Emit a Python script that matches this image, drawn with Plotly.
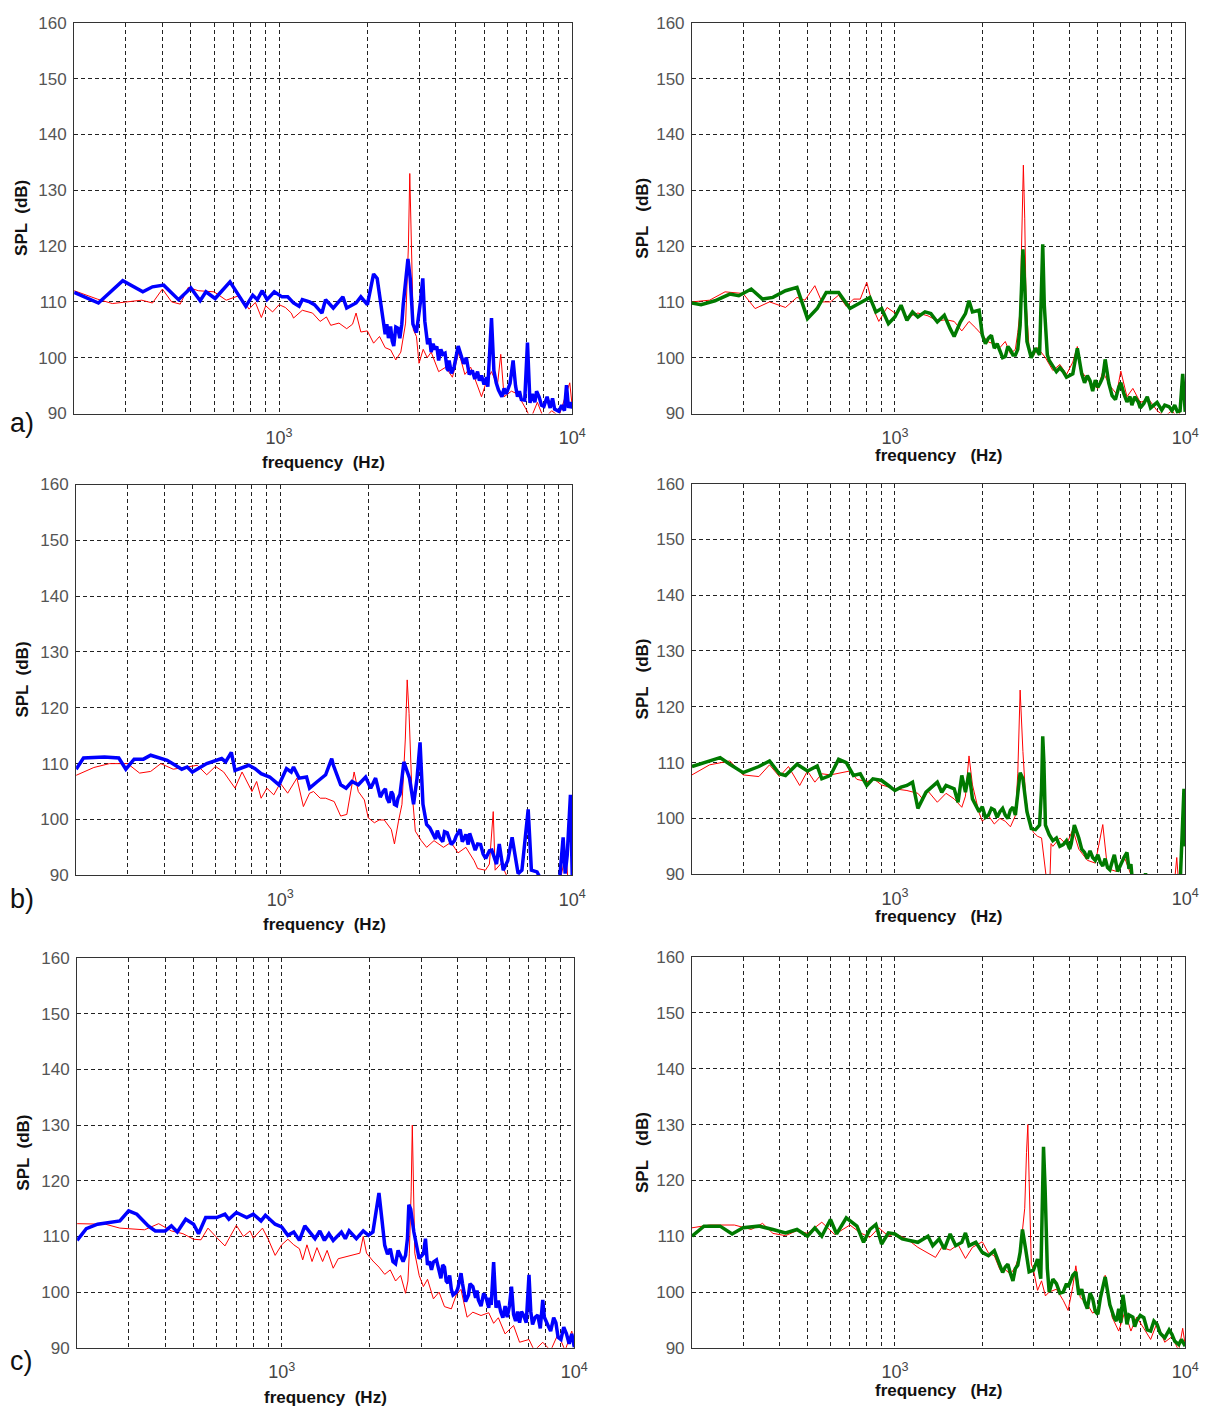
import math
import plotly.graph_objects as go

# ---------------- data ----------------
# panel a) left : blue vs red
A_L_BLUE_F = [200,242,293,343,370,404,454,500,538,563,605,680,770,813,843,876,910,963,1023,1070,
              1120,1170,1200,1270,1320,1400,1440,1530,1650,1700,1830,1900,2000,2100,2160,2230,2300,2400,2460,2540,
              2650,2750,2800,2860,2940,3030,3090,3140,3210,3400,3620,3780,3950,4080,4260,4560,4820,5150,5300,5400,
              5750,6130,6280,6500,6880,7030,7170,7700,8000,8560,9000,9550,10000]
A_L_BLUE_DB = [111.7,109.8,113.8,111.8,112.7,113,110.4,112.5,110.2,111.8,110.6,113.6,109.2,111.2,110.4,112,110.4,111.8,110.9,110.9,
               109.8,109.2,110.4,110,109.5,108,110.4,108.9,110.9,108.9,109.8,110.9,109.5,115,114.2,109.5,104.2,105.6,102.1,105.3,
               109.5,117.7,114.2,106,104.5,109.8,114.2,106.5,102.4,101.5,100.6,97.7,98.3,102.1,98.9,97.7,95.9,94.8,107.1,97.7,
               93,95.4,99.5,93,92.4,102.7,91.9,93,91.3,92.7,90.4,95.1,90.9]
# extra readings of the noisy band of the same blue trace
A_L_BLUE_F2 = [2330,2360,2430,2500,2580,2620,3260,3300,3350,3450,3500,3560,3680,3740,3800,3870,
               4350,4450,4650,4750,4900,5000,5100,5500,5600,5850,5950,6400,6600,6700,
               7300,7450,7550,7850,8200,8400,8700,9200,9400,9700,9850]
A_L_BLUE_DB2 = [106,103.5,103,105.5,103.5,106,103.5,101,102.5,102,99.5,101.5,100.8,98,99.5,97.2,
                100,97,96.2,97.5,96.8,95.2,96.5,95.5,94.2,94.5,93.5,95,94,92.5,
                93.5,92,94,91.5,93,91,90.8,91.5,90.5,91,92]
A_L_RED_F = [200,240,270,300,340,370,400,430,460,490,530,600,660,720,760,790,830,870,900,950,
             1000,1050,1100,1120,1200,1300,1380,1450,1500,1600,1700,1780,1830,1900,2000,2100,2200,2300,2400,2500,
             2600,2700,2760,2790,2830,2870,2940,3000,3100,3200,3300,3500,3700,3900,4100,4300,4500,4700,4900,5100,
             5300,5550,5700,5850,6200,6500,7000,7200,7600,8000,8500,9000,9800,10000]
A_L_RED_DB = [112,110.5,109.7,110,110.3,109.8,112.3,110,109.6,112.6,112,111.8,110.3,111,110,108.7,109.9,107.2,109.3,108.2,
              109.5,109,108,107.1,108.5,108,106.5,107.3,105.8,106.2,105.2,106,108,104.6,104.8,102.6,103.8,101.8,101.4,99.6,
              101,106.2,120,133,120,105,103.8,99,101.5,100,101,97.5,98.3,96.5,101,97,98.3,95.5,93,95.8,
              97.5,95,100.6,93,94,93.5,90.5,89,92,89,90.5,89.5,95.5,91]

# panel a) right : green vs red
A_R_GREEN_F = [200,215,240,270,290,320,350,380,420,460,500,540,580,640,700,760,820,860,900,950,
               1000,1050,1100,1150,1200,1270,1330,1400,1480,1550,1600,1680,1750,1800,1850,1950,2000,2100,2200,2300,
               2400,2500,2600,2700,2760,2800,2850,2950,3050,3150,3200,3230,3270,3350,3500,3700,3900,4100,4250,4400,
               4700,5000,5300,5600,5900,6300,6700,7200,7800,8300,8800,9400,9800,10000]
A_R_GREEN_DB = [109.8,109.5,110.2,111.4,111.1,112.3,110.5,110.8,112,112.6,107,108.8,111.7,111.7,108.8,109.8,110.8,108.2,108.8,106.1,
                107.3,109.4,106.7,108.2,107.3,108.2,107.9,106.4,107.6,105.2,103.8,106.4,107.9,110.2,108.2,108.5,104.1,103.5,101.7,101.1,
                100.2,101.4,100.5,105.8,119.4,112.9,102.9,100,101.7,100.5,110.5,120.3,109.4,100.5,98.5,98.2,96.5,97.1,101.7,97.1,
                95.9,94.7,99.7,93.2,94.7,92.1,93,91.8,91.5,90.6,91.2,90.3,97.1,90.3]
A_R_GREEN_F2 = [2050,2150,2250,2350,2450,2550,2650,3400,3600,3800,4000,4500,4600,4800,4900,5100,5200,
                5450,5750,6000,6150,6450,6550,6900,7000,7400,7600,8000,8500,9000,9200,9600]
A_R_GREEN_DB2 = [102.5,104,102.5,100,102,100.5,101.5,99.5,97.5,97.5,96.8,95.5,96.8,94,96,95.5,96.5,
                 95.5,92.5,95.5,93.5,93,91.5,92,91,93,91,92,91.5,90.5,91.5,90.5]
A_R_RED_F = [200,230,260,300,330,370,420,460,490,530,560,600,640,680,720,760,800,850,880,940,
             1000,1050,1100,1200,1300,1400,1500,1600,1700,1800,1900,2000,2100,2200,2300,2400,2500,2600,2650,2700,
             2740,2770,2800,2830,2900,3000,3100,3200,3300,3500,3700,3900,4100,4250,4400,4700,5000,5200,5500,5800,
             6000,6300,6600,7000,7500,8000,8500,9000,9500,9800,10000]
A_R_RED_DB = [110,110.3,111.8,111.5,108.8,110,109,110.8,110.3,112.9,110,110,111.2,109.2,110.5,110.5,113.5,108.3,106.5,109,
              108,108.8,107.2,108,107.5,106.6,106.8,106.5,104.8,106.5,105.3,104,102.8,102.5,101.8,102.9,100.7,101.5,104.5,108.5,
              125,134.5,125,110,101.5,100.3,101.8,100.8,100,97.7,98.8,97,99.2,102,97.5,95.5,94.5,97.5,95,93.5,
              97.6,93,94.5,92,92.5,90.5,89.5,90.5,89,94.3,91]

# panel b) left : blue vs red
B_L_BLUE_F = [200,212,250,280,296,316,340,360,410,460,480,500,560,600,630,650,680,700,780,820,
              860,920,990,1050,1090,1110,1160,1230,1260,1340,1430,1500,1520,1610,1680,1760,1850,1960,2040,2120,
              2250,2320,2400,2460,2530,2610,2650,2770,2860,2940,3010,3080,3170,3300,3510,3730,3950,4130,4320,4530,
              4740,4950,5200,5450,5620,5800,6010,6220,6520,6720,7060,7240,7570,8030,9000,9300,9450,9600,9850,10000]
B_L_BLUE_DB = [109,111,111.2,111,109,110.8,110.8,111.5,110.6,109,109.4,108.5,110,110.6,110.9,110.3,112,108.8,109.7,109.1,
               108.2,107.6,106.2,109.1,108.5,109.4,107.4,107.6,105.6,106.8,108,110.9,109.7,106.2,105.6,106.8,106.2,107.6,105.6,107.4,
               105,103.8,105,102.7,103.8,107.4,110.3,107.4,102.7,107.4,113.8,102.7,99.1,97.9,96.8,97.6,96.2,98.2,97.3,96.2,
               95.6,93.8,94.4,92.6,95.6,90.9,92.6,96.8,90.3,90.9,101.8,90.9,90.6,88,88,96.8,90.3,93.5,104.4,89]
B_L_BLUE_F2 = [2200,2290,2360,2430,2500,2570,3250,3400,3450,3600,3650,3850,4000,4200,4400,4450,4650,
               4850,5050,5300,5500,5700]
B_L_BLUE_DB2 = [104,105.5,103,104.5,102.5,104.5,98.5,96.5,98,96,97.8,95.5,97,96,95.5,97.5,94.5,
                95.5,93,94.5,92,93.2]
B_L_RED_F = [200,230,260,300,330,360,390,430,480,520,560,600,640,700,740,800,830,860,900,950,
             1000,1060,1140,1200,1260,1300,1370,1430,1530,1610,1690,1790,1850,1940,2000,2100,2180,2270,2400,2460,
             2540,2610,2680,2720,2760,2820,2900,3040,3170,3360,3620,3840,4060,4320,4610,4740,5040,5200,5360,5440,
             5700,5900,6200,9000,9500,9700,10000]
B_L_RED_DB = [107.9,109.3,110,110,108.3,108.6,110,109,109.4,109.7,108,109.5,108.5,105.6,108.5,105,106.8,103.8,105.6,104.4,
              106.5,104.7,107.4,102.3,104.7,105,103.8,103.8,103.2,100.6,100.9,108.5,105,103.5,100.3,99.4,99.9,99.9,98.2,95.6,
              99.7,102.7,114.4,125,119,105.6,97.9,96.2,95,96.2,95,95.9,94,95,92.6,91.2,90.9,92,101.4,90.9,
              92.1,90.3,88,88,94,88,88]

# panel b) right : green vs red
B_R_GREEN_F = [200,220,250,270,300,340,370,400,420,460,500,540,560,600,640,680,720,760,800,840,
               900,950,1000,1050,1100,1150,1200,1280,1320,1400,1450,1500,1600,1650,1700,1750,1800,1850,1950,2000,
               2100,2200,2300,2400,2500,2600,2700,2760,2850,2950,3050,3150,3200,3230,3260,3300,3400,3600,3800,4000,
               4150,4300,4500,4800,5100,5400,5700,6000,6300,6500,6600,7200,7300,7400,9600,9900,10000]
B_R_GREEN_DB = [109.3,110,110.9,109.7,108.2,109.3,110.3,108,107.7,109.7,108.5,109.4,107.1,107.7,110.6,110,107.7,108,105.9,107.1,
                106.8,105.9,105,105.6,105.9,106.5,101.8,104.7,105.3,106.5,104.7,105.9,105.3,102.9,107.7,104.7,108.2,103.5,101.2,102.1,
                100.6,101.5,101.2,100.6,101.5,100.6,108.2,107.1,101.2,98.2,98,98.8,105.3,114.7,110,98.8,97.1,96.5,95.3,94.5,
                98.8,96.5,93.9,93,92.1,91.2,93.5,91.8,93.9,91.8,88,88,90.2,88,88,105.3,95]
B_R_GREEN_F2 = [2050,2150,2250,2350,2450,2550,3500,3700,3900,4050,4400,4600,4700,4900,5000,5200,5300,
                5500,5600,5850,6150,6400]
B_R_GREEN_DB2 = [100.2,101.8,100.2,101.8,100,102,96,95,96,95.5,94.5,92.8,94.2,92.5,93.5,91.5,92.8,
                 90.8,92.2,90.5,93,91]
B_R_RED_F = [200,230,270,300,340,370,400,430,470,500,530,560,600,650,700,740,800,850,900,1000,
             1100,1200,1250,1300,1400,1500,1600,1700,1750,1800,1850,1950,2000,2100,2200,2300,2400,2500,2600,2650,
             2700,2760,2820,2900,3000,3100,3200,3400,3450,3500,3700,3900,4100,4300,4600,4900,5200,5400,5800,6200,
             6600,9200,9350,9500,9750,9900,10000]
B_R_RED_DB = [107.8,109.6,110.3,107.8,107.5,109.6,107.5,109.3,105.9,108.5,106.5,108,107.8,108.2,108.5,107,106.6,107,106,105.3,
              105,104.5,103.4,104.9,102.9,104.5,103.5,102,104,111.2,106,101,99.5,100.5,99,100,99.5,98.5,100.5,108,
              123,112,104,99.5,97.5,96.8,96.5,85,95.5,95,96.5,95.3,98,94.5,92.5,92,98.9,91,90.5,92.8,
              89,89,93,88,96,103,96]

# panel c) left : blue vs red
C_L_BLUE_F = [200,215,235,260,280,300,320,350,370,400,420,440,470,500,520,550,600,640,660,700,
              760,800,850,880,950,1000,1050,1100,1150,1200,1250,1300,1350,1400,1450,1500,1600,1650,1700,1800,
              1900,1980,2050,2100,2150,2200,2250,2350,2450,2550,2650,2690,2720,2760,2830,2950,3050,3100,3150,3300,
              3450,3550,3700,3850,4000,4100,4250,4500,4700,5000,5200,5300,5400,5700,6100,6300,6700,7000,7200,7500,
              7800,8100,8500,8800,9200,9600,9800,10000]
C_L_BLUE_DB = [109.3,111.4,112.2,112.5,112.8,114.6,114,111.9,111,111,111.9,110.8,113.1,112.2,110.5,113.4,113.4,114,113.1,114.3,
               113.4,114,112.8,113.8,112.2,111.7,110.2,110.8,109.3,111.9,110.8,109.6,111,109.3,110.5,109.3,110.8,109.6,111,109.6,
               111,110.2,110.8,114.9,117.8,113.1,108.4,107.8,105.1,106.6,106.6,109.6,115.7,114.9,110.8,106,106.9,109.6,104.9,105.4,
               103.7,104.9,101.6,99.5,100.7,103.4,98.3,101,98.6,98.9,97.7,105.4,97.2,95.4,101,94.8,95.9,103.1,94.2,95.9,
               98.6,94.2,95.4,91.9,93.7,90.7,92.5,90.1]
C_L_BLUE_F2 = [2300,2400,2500,2600,3200,3250,3380,3500,3600,3650,3750,3800,3950,4150,4350,4400,4600,4650,4800,4900,
               5100,5150,5500,5600,5800,5900,6000,6200,6400,6500,6600,6850,7100,7350,7650,7900,8300,8650,9000,9400]
C_L_BLUE_DB2 = [106.8,105.5,107.5,105.5,105.5,104,105.8,102.5,104.5,102,103,100.5,100,101.5,99.5,101.5,99,100.3,97.5,99.8,
                97.2,99,98.5,96.5,97.5,95.5,97.5,96,96.5,94.5,96.5,94.5,96.5,95.5,93.5,95.5,93,94.5,91.5,92.5]
C_L_RED_F = [200,250,280,300,340,380,420,460,500,530,560,600,640,700,740,780,800,860,900,950,
             1000,1050,1100,1150,1180,1220,1270,1320,1380,1430,1500,1560,1650,1750,1850,1900,1950,2050,2150,2250,
             2350,2450,2550,2650,2700,2730,2770,2795,2815,2850,2950,3050,3150,3300,3450,3600,3800,3950,4100,4300,
             4500,4800,5100,5300,5500,5800,6200,6500,7000,7300,7800,8300,8800,9300,9800,10000]
C_L_RED_DB = [112.3,112.2,111.5,111.4,111.2,112.3,111,110.5,109.5,109.4,111.5,109.8,108.3,112,110,111,109.7,111.5,109.5,106.6,
              108.5,109.5,108.5,107.8,105.8,108.5,105.5,108,105.5,107.5,104.3,106,106.3,106.6,107,110,107,105.6,104.5,103.2,
              104,102,103,99.8,102,107,118,130,118,107,103,101,102.3,98.8,100,97.4,97,99.5,100.5,95.5,
              96.4,95.8,96.3,94.4,95.4,92.5,94,91,91.5,89.5,91,89.5,92.5,89.5,93,91]

# panel c) right : green vs red
C_R_GREEN_F = [200,220,250,275,300,340,380,420,460,500,530,560,600,630,680,740,780,820,860,900,
               950,1000,1060,1120,1200,1300,1350,1420,1480,1550,1620,1700,1750,1800,1900,2000,2100,2200,2300,2400,
               2500,2600,2700,2750,2820,2900,3000,3100,3180,3250,3290,3350,3450,3600,3800,3950,4100,4200,4300,4500,
               4700,4900,5100,5300,5500,5800,6100,6400,6800,7200,7600,8000,8500,9000,9500,10000]
C_R_GREEN_DB = [110,111.8,111.8,110.4,111.5,111.8,111.2,110.6,111.2,110,111.5,110,113,110.4,113.3,111.8,108.9,111.2,112.1,108.6,
                110.6,110.4,109.5,109.2,108.9,110,108.3,109.5,107.7,110.4,108.3,108.9,110.6,108.3,108.9,107.1,106.5,107.4,104.8,104.5,
                103.3,104.2,107.1,111.2,107.7,103.6,103.9,105.9,102.4,126,118.9,104.2,101.2,101.5,100,100.9,103,103.6,99.5,98.3,
                99.8,96.5,98.9,102.7,97.7,94.8,99.5,95.9,94.8,95.4,93,94.2,91.8,92.4,90.6,90.3]
C_R_GREEN_F2 = [2350,2450,2550,2650,3400,3500,3700,3900,4400,4600,4800,5000,5600,5700,5900,6000,6200,6300,6600,6700,
                7000,7400,7800,8200,8800,9200,9700]
C_R_GREEN_DB2 = [103.5,105,102,104.8,100,102.3,99.8,101.5,100.5,97,98.8,96,96.5,95.3,97,94.5,97,94.2,95.5,93.8,
                 95.8,93.2,94.8,92.6,93.2,91.2,91.5]
C_R_RED_F = [200,230,280,320,350,380,420,460,500,560,620,700,760,820,880,950,1000,1100,1200,1300,
             1380,1450,1550,1650,1750,1850,1950,2000,2100,2200,2300,2400,2500,2600,2700,2800,2840,2870,2900,2950,
             3000,3100,3200,3300,3400,3600,3800,3950,4100,4200,4350,4600,4800,5000,5300,5600,5900,6200,6500,6800,
             7200,7600,8000,8500,9000,9500,9800,10000]
C_R_RED_DB = [111.5,112,112,111.2,112.3,110.5,110.1,111,110.5,112.5,110.3,112,110.6,109.8,111.5,110,110.5,109.5,108,107,
              106.2,108,107.5,108.5,106,108,108.7,109,107,106.5,104,104,103.2,104.5,107,115,125,130,120,105,
              104,100.3,102,99.3,100,100.5,98.5,96.7,101,104.7,99,97.8,96.2,97,103,95.5,93,96.5,93,95.5,
              93.5,91.5,94.5,91,92,89.5,93.5,90.5]

X_TICK_VALS = [200, 300, 400, 500, 600, 700, 800, 900, 1000, 2000, 3000, 4000, 5000, 6000, 7000, 8000, 9000, 10000]
X_TICK_TEXT = {1000: "10<sup>3</sup>", 10000: "10<sup>4</sup>"}
Y_TICKS = [90, 100, 110, 120, 130, 140, 150, 160]
PANEL_LABELS = ["a)", "b)", "c)"]


def merged(f1, d1, f2, d2):
    """combine the main readings with the extra band readings, ordered by frequency"""
    assert len(f1) == len(d1) and len(f2) == len(d2)
    pairs = sorted(zip(list(f1) + list(f2), list(d1) + list(d2)), key=lambda t: t[0])
    return [p[0] for p in pairs], [p[1] for p in pairs]


# ---------------- layout geometry (page pixels) ----------------
W, H = 1219, 1418


def px(x):
    return x / W


def py(y):
    return 1 - y / H


panels = [
    dict(box=(75, 579, 14, 410), red=(A_L_RED_F, A_L_RED_DB),
         main=merged(A_L_BLUE_F, A_L_BLUE_DB, A_L_BLUE_F2, A_L_BLUE_DB2), color="#0000FF", left=True),
    dict(box=(700, 1199, 14, 410), red=(A_R_RED_F, A_R_RED_DB),
         main=merged(A_R_GREEN_F, A_R_GREEN_DB, A_R_GREEN_F2, A_R_GREEN_DB2), color="#007A00", left=False),
    dict(box=(77, 579, 482, 878), red=(B_L_RED_F, B_L_RED_DB),
         main=merged(B_L_BLUE_F, B_L_BLUE_DB, B_L_BLUE_F2, B_L_BLUE_DB2), color="#0000FF", left=True),
    dict(box=(700, 1199, 481, 877), red=(B_R_RED_F, B_R_RED_DB),
         main=merged(B_R_GREEN_F, B_R_GREEN_DB, B_R_GREEN_F2, B_R_GREEN_DB2), color="#007A00", left=False),
    dict(box=(78, 581, 962, 1357), red=(C_L_RED_F, C_L_RED_DB),
         main=merged(C_L_BLUE_F, C_L_BLUE_DB, C_L_BLUE_F2, C_L_BLUE_DB2), color="#0000FF", left=True),
    dict(box=(700, 1199, 961, 1357), red=(C_R_RED_F, C_R_RED_DB),
         main=merged(C_R_GREEN_F, C_R_GREEN_DB, C_R_GREEN_F2, C_R_GREEN_DB2), color="#007A00", left=False),
]

FONT = "Liberation Sans, Arial, sans-serif"
fig = go.Figure()
layout = dict(width=W, height=H, autosize=False, margin=dict(l=0, r=0, t=0, b=0, pad=0),
              paper_bgcolor="white", plot_bgcolor="white", showlegend=False, hovermode=False,
              font=dict(family=FONT, color="#222"))
annotations = []

for i, p in enumerate(panels):
    n = "" if i == 0 else str(i + 1)
    x0, x1, y0, y1 = p["box"]
    rf, rdb = p["red"]
    mf, mdb = p["main"]
    assert len(rf) == len(rdb) and len(mf) == len(mdb)
    fig.add_trace(go.Scatter(x=rf, y=rdb, mode="lines", line=dict(color="#FF0000", width=1),
                             xaxis="x" + n, yaxis="y" + n))
    fig.add_trace(go.Scatter(x=mf, y=mdb, mode="lines", line=dict(color=p["color"], width=3.5),
                             xaxis="x" + n, yaxis="y" + n))
    layout["xaxis" + n] = dict(
        type="log", range=[math.log10(200), 4], domain=[px(x0), px(x1)], anchor="y" + n,
        tickvals=X_TICK_VALS, ticktext=[X_TICK_TEXT.get(v, "") for v in X_TICK_VALS],
        showgrid=True, gridcolor="#222", griddash="4px,3px", gridwidth=1,
        showline=True, mirror=True, linecolor="#333", linewidth=1, ticks="", zeroline=False,
        tickfont=dict(family=FONT, size=18, color="#444"), ticklabelstandoff=8)
    layout["yaxis" + n] = dict(
        range=[90, 160], domain=[py(y1), py(y0)], anchor="x" + n,
        tickvals=Y_TICKS, showgrid=True, gridcolor="#222", griddash="4px,3px", gridwidth=1,
        showline=True, mirror=True, linecolor="#333", linewidth=1, ticks="", zeroline=False,
        tickfont=dict(family=FONT, size=17, color="#555"), ticklabelstandoff=3)
    cx = (x0 + x1) / 2
    cy = (y0 + y1) / 2
    if p["left"]:
        spl_text = "SPL \u00a0(dB)"
        fq_text = "frequency \u00a0(Hz)"
        spl_x = x0 - 54
        fq_y = y1 + 50
    else:
        spl_text = "SPL \u00a0 (dB)"
        fq_text = "frequency \u00a0 (Hz)"
        spl_x = x0 - 50
        fq_y = y1 + 43
    annotations.append(dict(text="<b>%s</b>" % spl_text, x=px(spl_x), y=py(cy), xref="paper", yref="paper",
                            showarrow=False, textangle=-90, xanchor="center", yanchor="middle",
                            font=dict(family=FONT, size=17, color="#111")))
    annotations.append(dict(text="<b>%s</b>" % fq_text, x=px(cx), y=py(fq_y), xref="paper", yref="paper",
                            showarrow=False, xanchor="center", yanchor="middle",
                            font=dict(family=FONT, size=17, color="#111")))

for lab, ly in zip(PANEL_LABELS, [420, 902, 1370]):
    annotations.append(dict(text=lab, x=px(22), y=py(ly), xref="paper", yref="paper", showarrow=False,
                            xanchor="center", yanchor="middle", font=dict(family=FONT, size=27, color="#111")))

layout["annotations"] = annotations
fig.update_layout(**layout)

# pin the graph to the page's top-left corner (no default body margin, no scrollbars)
PIN_JS = ("document.documentElement.style.margin='0';document.body.style.margin='0';"
          "document.body.style.overflow='hidden';document.documentElement.style.overflow='hidden';"
          "var g=document.getElementById('{plot_id}');g.style.position='absolute';"
          "g.style.left='0px';g.style.top='0px';")
fig.write_html("out.html", post_script=PIN_JS, config={"displayModeBar": False})
